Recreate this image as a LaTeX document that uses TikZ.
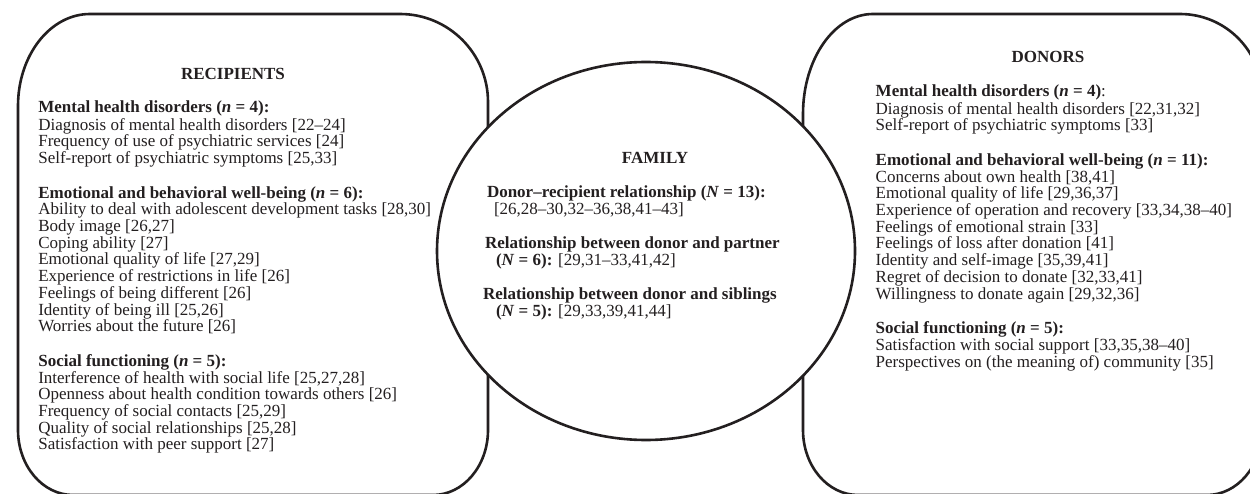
\documentclass[tikz,border=0pt]{standalone}
\usepackage{fontspec}
\setmainfont{Liberation Serif}
\definecolor{ink}{RGB}{35,31,32}
\begin{document}
\begin{tikzpicture}[x=1pt,y=-1pt,
  outline/.style={draw=ink,line width=2.6pt},
  txt/.style={inner sep=0pt,outer sep=0pt,text=ink,align=left,anchor=north west,
    font=\fontsize{17}{16.7}\selectfont},
  head/.style={inner sep=0pt,outer sep=0pt,text=ink,anchor=base,
    font=\fontsize{17}{16.7}\selectfont\bfseries}]
\useasboundingbox (0,0) rectangle (1250,494);
\clip (0,0) rectangle (1250,494);
\fill[white] (0,0) rectangle (1250,494);
% recipients box
\draw[outline] (18,106) .. controls (18,55.2) and (50.2,14) .. (90,14)
  -- (400,14) .. controls (448.6,14) and (488,53.4) .. (488,102)
  -- (488,430) .. controls (488,465.9) and (463.4,495) .. (433,495)
  -- (73,495) .. controls (42.6,495) and (18,465.9) .. (18,430) -- cycle;
% donors box
\draw[outline] (803,114) .. controls (803,58.8) and (834.3,14) .. (873,14)
  -- (1180,14) .. controls (1225.3,14) and (1262,50.7) .. (1262,96)
  -- (1262,430) .. controls (1262,465.9) and (1237.4,495) .. (1207,495)
  -- (858,495) .. controls (827.6,495) and (803,465.9) .. (803,430) -- cycle;
% family ellipse
\draw[outline,fill=white] (646,251) ellipse [x radius=209, y radius=189];
% headings
\node[head] (rechead) at (233,80) {RECIPIENTS};
\node[head] (donhead) at (1048,63) {DONORS};
\node[head] (famhead) at (655,164) {FAMILY};
% recipients text
\node[txt] (rectext) at (38.3,100.3) {\strut\textbf{Mental health disorders (\textit{n} = 4):}\\
Diagnosis of mental health disorders [22–24]\\
Frequency of use of psychiatric services [24]\\
Self-report of psychiatric symptoms [25,33]\\[18pt]
\textbf{Emotional and behavioral well-being (\textit{n} = 6):}\\
Ability to deal with adolescent development tasks [28,30]\\
Body image [26,27]\\
Coping ability [27]\\
Emotional quality of life [27,29]\\
Experience of restrictions in life [26]\\
Feelings of being different [26]\\
Identity of being ill [25,26]\\
Worries about the future [26]\\[18pt]
\textbf{Social functioning (\textit{n} = 5):}\\
Interference of health with social life [25,27,28]\\
Openness about health condition towards others [26]\\
Frequency of social contacts [25,29]\\
Quality of social relationships [25,28]\\
Satisfaction with peer support [27]};
% donors text
\node[txt] (dontext) at (875.7,84.3) {\strut\textbf{Mental health disorders (\textit{n} = 4)}:\\
Diagnosis of mental health disorders [22,31,32]\\
Self-report of psychiatric symptoms [33]\\[18pt]
\textbf{Emotional and behavioral well-being (\textit{n} = 11):}\\
Concerns about own health [38,41]\\
Emotional quality of life [29,36,37]\\
Experience of operation and recovery [33,34,38–40]\\
Feelings of emotional strain [33]\\
Feelings of loss after donation [41]\\
Identity and self-image [35,39,41]\\
Regret of decision to donate [32,33,41]\\
Willingness to donate again [29,32,36]\\[18pt]
\textbf{Social functioning (\textit{n} = 5):}\\
Satisfaction with social support [33,35,38–40]\\
Perspectives on (the meaning of) community [35]};
% family text
\node[txt] (fam1) at (487,185.3) {\strut\textbf{Donor–recipient relationship (\textit{N} = 13):}\\
\hspace*{7pt}[26,28–30,32–36,38,41–43]};
\node[txt] (fam2) at (485,236.3) {\strut\textbf{Relationship between donor and partner}\\
\hspace*{11pt}\textbf{(\textit{N} = 6):} [29,31–33,41,42]};
\node[txt] (fam3) at (483,287.3) {\strut\textbf{Relationship between donor and siblings}\\
\hspace*{13pt}\textbf{(\textit{N} = 5):} [29,33,39,41,44]};
\end{tikzpicture}
\end{document}
